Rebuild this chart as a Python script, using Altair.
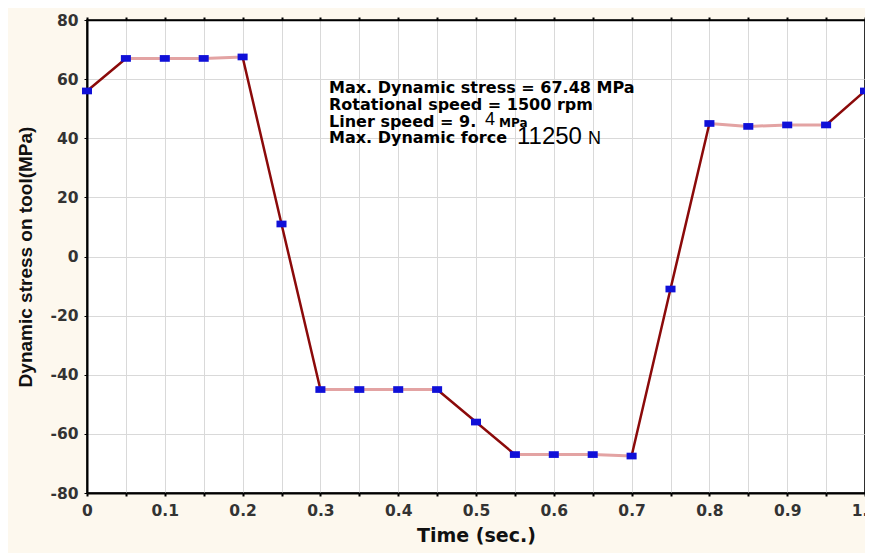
import altair as alt
import pandas as pd

time_s = [0.0, 0.05, 0.1, 0.15, 0.2, 0.25, 0.3, 0.35, 0.4, 0.45, 0.5,
          0.55, 0.6, 0.65, 0.7, 0.75, 0.8, 0.85, 0.9, 0.95, 1.0]
stress = [56, 67, 67, 67, 67.5, 11, -45, -45, -45, -45, -56,
          -67, -67, -67, -67.5, -11, 45, 44, 44.5, 44.5, 56]

x_ticks = [round(i * 0.05, 2) for i in range(21)]
y_ticks = [-80, -60, -40, -20, 0, 20, 40, 60, 80]

df = pd.DataFrame({"t": time_s, "s": stress})
seg = pd.DataFrame({
    "t": time_s[:-1], "s": stress[:-1],
    "t2": time_s[1:], "s2": stress[1:],
})
seg["flat"] = [("flat" if abs(b - a) < 2 else "steep") for a, b in zip(stress[:-1], stress[1:])]

xscale = alt.Scale(domain=[0, 1], nice=False, zero=False)
yscale = alt.Scale(domain=[-80, 80], nice=False, zero=False)

x_axis = alt.Axis(values=x_ticks, grid=True, gridColor="#d9d9d9", gridWidth=1,
                  labelExpr="(round(datum.value*100) % 10 == 0) ? (datum.value == 0 ? '0' : format(datum.value, '.1f')) : ''",
                  labelFont="DejaVu Sans", labelFontWeight="bold", labelFontSize=15.5,
                  labelColor="#333333", labelPadding=7, tickSize=3, tickColor="#000000",
                  tickWidth=2, domainColor="#000000", domainWidth=2,
                  title="Time (sec.)", titleFont="DejaVu Sans", titleFontSize=19,
                  titleFontWeight="bold", titleColor="#111111", titlePadding=8,
                  labelFlush=False)
y_axis = alt.Axis(values=y_ticks, grid=True, gridColor="#d9d9d9", gridWidth=1,
                  labelExpr="'' + datum.value",
                  labelFont="DejaVu Sans", labelFontWeight="bold", labelFontSize=15.5,
                  labelColor="#333333", labelPadding=6, tickSize=3, tickColor="#000000",
                  domainColor="#000000", domainWidth=2,
                  title="Dynamic stress on tool(MPa)", titleFont="Liberation Sans",
                  titleFontSize=19, titleFontWeight="bold", titleColor="#111111",
                  titlePadding=14)

lines = alt.Chart(seg).mark_rule(strokeCap="round").encode(
    x=alt.X("t:Q", scale=xscale, axis=x_axis),
    x2="t2:Q",
    y=alt.Y("s:Q", scale=yscale, axis=y_axis),
    y2="s2:Q",
    color=alt.Color("flat:N", scale=alt.Scale(domain=["flat", "steep"],
                                              range=["#e3a3a3", "#8b0a0a"]), legend=None),
    strokeWidth=alt.StrokeWidth("flat:N", scale=alt.Scale(domain=["flat", "steep"], range=[3, 2.5]), legend=None),
)

top_right = alt.Chart(df).mark_point(opacity=0).encode(
    x=alt.X("t:Q", scale=xscale, axis=alt.Axis(orient="top", values=x_ticks, labels=False,
                                              grid=False, title=None, tickSize=3, tickWidth=2,
                                              tickColor="#000000", domainColor="#000000", domainWidth=1.5)),
    y=alt.Y("s:Q", scale=yscale, axis=alt.Axis(orient="right", values=y_ticks, labels=False,
                                              grid=False, title=None, tickSize=3,
                                              tickColor="#000000", domainColor="#000000", domainWidth=1.5)),
)

pts = alt.Chart(df).mark_point(
    shape="M-1.2,-0.8 L1.2,-0.8 L1.2,0.8 L-1.2,0.8 Z",
    filled=True, size=70, color="#1010d8", opacity=1,
).encode(x=alt.X("t:Q", scale=xscale, axis=None), y=alt.Y("s:Q", scale=yscale, axis=None))

ann_lines = ["Max. Dynamic stress = 67.48 MPa", "Rotational speed = 1500 rpm",
             "Liner speed = 9.", "Max. Dynamic force"]
ann_y = [68, 85, 102, 118]
texts = []
for txt, yy in zip(ann_lines, ann_y):
    texts.append(alt.Chart(df.head(1)).mark_text(
        text=txt, font="DejaVu Sans", fontWeight="bold", fontSize=16,
        align="left", baseline="middle", color="#000000",
    ).encode(x=alt.value(242), y=alt.value(yy)))
extra = [("4", 398, 100, 18, "normal", "Liberation Sans"),
         ("MPa", 412, 103, 12, "bold", "DejaVu Sans"),
         ("11250", 430, 117, 24, "normal", "Liberation Sans"),
         ("N", 501, 119, 18, "normal", "Liberation Sans")]
for txt, xx, yy, fs, fw, fnt in extra:
    texts.append(alt.Chart(df.head(1)).mark_text(
        text=txt, font=fnt, fontWeight=fw, fontSize=fs,
        align="left", baseline="middle", color="#000000",
    ).encode(x=alt.value(xx), y=alt.value(yy)))

chart = alt.layer(lines, top_right, pts, *texts).resolve_axis(
    x="independent", y="independent"
).properties(
    width=778, height=473,
    padding={"left": 79, "top": 12, "right": 0, "bottom": 60},
    autosize=alt.AutoSizeParams(type="none"),
    background="#fdf8ee",
).configure_view(fill="#ffffff", stroke="#000000", strokeWidth=1.5)

chart.save("out.html", embed_options={"renderer": "svg", "actions": False})
